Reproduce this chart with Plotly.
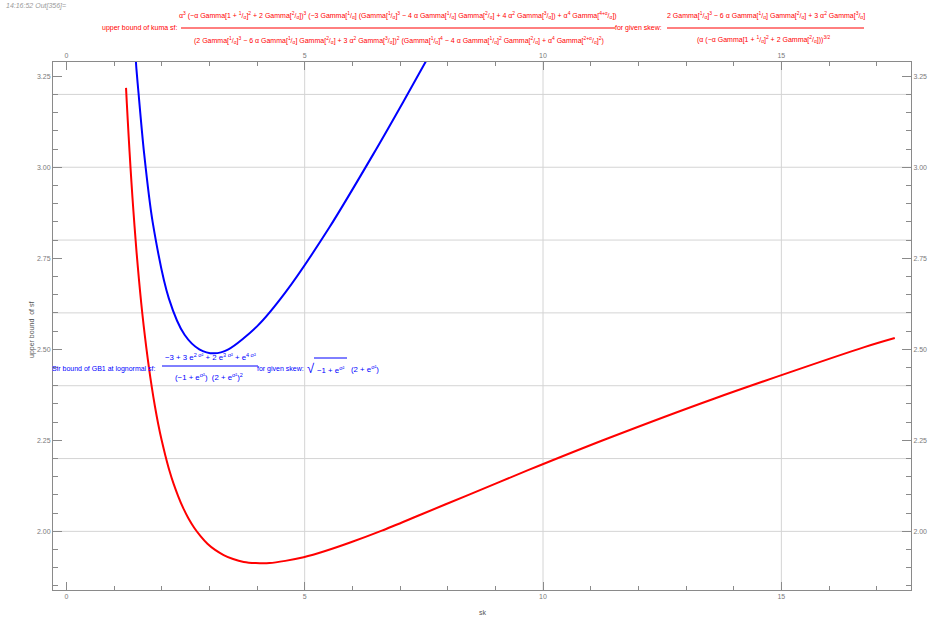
import plotly.graph_objects as go

W, H = 929, 618
ML, MR, MT, MB = 53, 18, 62, 28

# upper bound of the Kumaraswamy sf versus skewness (red)
kuma_sk = [1.252, 1.269, 1.307, 1.346, 1.387, 1.430, 1.474, 1.521, 1.570, 1.622,
           1.677, 1.734, 1.795, 1.859, 1.927, 2.000, 2.078, 2.160, 2.249, 2.345,
           2.448, 2.560, 2.682, 2.815, 2.960, 3.121, 3.300, 3.498, 3.722, 3.974,
           4.262, 4.593, 4.978, 5.431, 5.969, 6.619, 7.416, 8.413, 9.686, 11.353,
           13.601, 16.742, 17.38]
kuma_sf = [3.218, 3.175, 3.085, 2.999, 2.917, 2.839, 2.765, 2.695, 2.628, 2.565,
           2.505, 2.448, 2.394, 2.343, 2.295, 2.250, 2.208, 2.168, 2.131, 2.097,
           2.065, 2.036, 2.010, 1.987, 1.966, 1.949, 1.935, 1.924, 1.916, 1.913,
           1.913, 1.919, 1.929, 1.946, 1.970, 2.002, 2.045, 2.099, 2.168, 2.255,
           2.365, 2.506, 2.531]

# GB1 bound at the lognormal sf versus skewness (blue)
gb1_sk = [1.45, 1.47, 1.51, 1.63, 1.81, 2.15, 2.48, 2.79, 3.10, 3.40, 4.00, 4.60,
          5.51, 6.44, 7.07, 7.71]
gb1_sf = [3.31, 3.27, 3.21, 3.04, 2.85, 2.64, 2.54, 2.50, 2.489, 2.50, 2.563, 2.657,
          2.833, 3.036, 3.18, 3.33]

x_range = [-0.28, 17.72]
y_range = [1.839, 3.289]
x_grid = [5, 10, 15]
y_grid = [2.0, 2.2, 2.4, 2.6, 2.8, 3.0, 3.2]

FONT = "Liberation Sans, Arial, sans-serif"
GRAY = "#8a8a8a"
TICKC = "#7a7a7a"
RED = "#ff0000"
BLUE = "#0000ff"


def px(x):
    return (x - ML) / (W - ML - MR)


def py(y):
    return 1 - (y - MT) / (H - MT - MB)


def fr(a, b):
    return f"<sup>{a}</sup>/<sub>{b}</sub>"


fig = go.Figure()
fig.add_trace(go.Scatter(x=kuma_sk, y=kuma_sf, mode="lines",
                         line=dict(color=RED, width=2, shape="spline", smoothing=0.8),
                         showlegend=False, cliponaxis=True))
fig.add_trace(go.Scatter(x=gb1_sk, y=gb1_sf, mode="lines",
                         line=dict(color=BLUE, width=2, shape="spline", smoothing=0.8),
                         showlegend=False, cliponaxis=True))
# invisible trace to activate the mirrored frame axes
fig.add_trace(go.Scatter(x=[x_range[0]], y=[y_range[0]], xaxis="x2", yaxis="y2",
                         mode="markers", marker=dict(opacity=0), showlegend=False,
                         hoverinfo="skip"))

tickfont = dict(family=FONT, size=7, color=TICKC)
xcommon = dict(range=x_range, dtick=5, tick0=0, ticks="inside", ticklen=8,
               tickcolor=GRAY, showline=True, linecolor=GRAY, linewidth=1,
               showgrid=False, zeroline=False, tickfont=tickfont, automargin=False,
               minor=dict(dtick=1, tick0=0, ticks="inside", ticklen=4, tickcolor=GRAY))
ycommon = dict(range=y_range, dtick=0.25, tick0=0, ticks="inside", ticklen=9,
               tickcolor=GRAY, showline=True, linecolor=GRAY, linewidth=1,
               showgrid=False, zeroline=False, tickfont=tickfont, tickformat=".2f",
               automargin=False,
               minor=dict(dtick=0.05, tick0=0, ticks="inside", ticklen=5, tickcolor=GRAY))

fig.update_layout(
    width=W, height=H,
    margin=dict(l=ML, r=MR, t=MT, b=MB, pad=0, autoexpand=False),
    paper_bgcolor="white", plot_bgcolor="white",
    xaxis=dict(**xcommon, side="bottom"),
    xaxis2=dict(**xcommon, side="top", overlaying="x", matches="x"),
    yaxis=dict(**ycommon, side="left"),
    yaxis2=dict(**ycommon, side="right", overlaying="y", matches="y"),
    font=dict(family=FONT),
)

shapes = []
for g in x_grid:
    shapes.append(dict(type="line", xref="x", yref="paper", x0=g, x1=g, y0=0, y1=1,
                       line=dict(color="#d4d4d4", width=1), layer="below"))
for g in y_grid:
    shapes.append(dict(type="line", xref="paper", yref="y", x0=0, x1=1, y0=g, y1=g,
                       line=dict(color="#d4d4d4", width=1), layer="below"))

ann = []


def text(x, y, s, color, size=7, anchor="center", **kw):
    ann.append(dict(x=px(x), y=py(y), xref="paper", yref="paper", text=s,
                    showarrow=False, xanchor=anchor, yanchor="middle",
                    font=dict(family=FONT, size=size, color=color), **kw))


def bar(x0, x1, y, color):
    shapes.append(dict(type="line", xref="paper", yref="paper", x0=px(x0), x1=px(x1),
                       y0=py(y), y1=py(y), line=dict(color=color, width=1)))


# red formula at the top
FS = 7
num1 = (f"α<sup>3</sup> (−α Gamma[1 + {fr(1,'α')}]<sup>2</sup> + 2 Gamma[{fr(2,'α')}])<sup>3</sup> "
        f"(−3 Gamma[{fr(1,'α')}] (Gamma[{fr(1,'α')}]<sup>3</sup> − 4 α Gamma[{fr(1,'α')}] "
        f"Gamma[{fr(2,'α')}] + 4 α<sup>2</sup> Gamma[{fr(3,'α')}]) + α<sup>4</sup> "
        f"Gamma[{fr('4+α','α')}])")
den1 = (f"(2 Gamma[{fr(1,'α')}]<sup>3</sup> − 6 α Gamma[{fr(1,'α')}] Gamma[{fr(2,'α')}] + "
        f"3 α<sup>2</sup> Gamma[{fr(3,'α')}])<sup>2</sup> (Gamma[{fr(1,'α')}]<sup>4</sup> − "
        f"4 α Gamma[{fr(1,'α')}]<sup>2</sup> Gamma[{fr(2,'α')}] + α<sup>4</sup> "
        f"Gamma[{fr('2+α','α')}]<sup>2</sup>)")
num2 = (f"2 Gamma[{fr(1,'α')}]<sup>3</sup> − 6 α Gamma[{fr(1,'α')}] Gamma[{fr(2,'α')}] + "
        f"3 α<sup>2</sup> Gamma[{fr(3,'α')}]")
den2 = (f"(α (−α Gamma[1 + {fr(1,'α')}]<sup>2</sup> + 2 Gamma[{fr(2,'α')}]))<sup>3/2</sup>")

text(180, 28, "upper bound of kuma sf:", RED, 7, anchor="right")
text(398, 16, num1, RED, FS)
bar(181, 615, 28, RED)
text(398.5, 41, den1, RED, FS)
text(638, 28, "for given skew:", RED, 7)
text(765.5, 16, num2, RED, FS)
bar(667, 864, 28, RED)
text(764, 40, den2, RED, FS)

# blue formula inside the plot
BS = 7.8
text(158, 369, "Sir bound of GB1 at lognormal sf:", BLUE, 7, anchor="right")
text(210, 357, "−3 + 3 e<sup>2 σ²</sup> + 2 e<sup>3 σ²</sup> + e<sup>4 σ²</sup>", BLUE, BS)
bar(162, 258, 366, BLUE)
text(209, 377, "(−1 + e<sup>σ²</sup>)  (2 + e<sup>σ²</sup>)<sup>2</sup>", BLUE, BS)
text(280.5, 369, "for given skew:", BLUE, 7)
text(310.5, 368, "√", BLUE, 13)
text(330, 370, "−1 + e<sup>σ²</sup>", BLUE, BS)
bar(314, 347, 358, BLUE)
text(365, 369, "(2 + e<sup>σ²</sup>)", BLUE, BS)

# axis labels and cell tag
text(32, 330, "upper bound  of sf", "#555555", 7, textangle=-90)
text(483, 612, "sk", "#555555", 7)
text(4, 6, "<i>14:16:52 Out[356]=</i>", "#9a9a9a", 7, anchor="left")

fig.update_layout(shapes=shapes, annotations=ann)
fig.write_html("out.html")
